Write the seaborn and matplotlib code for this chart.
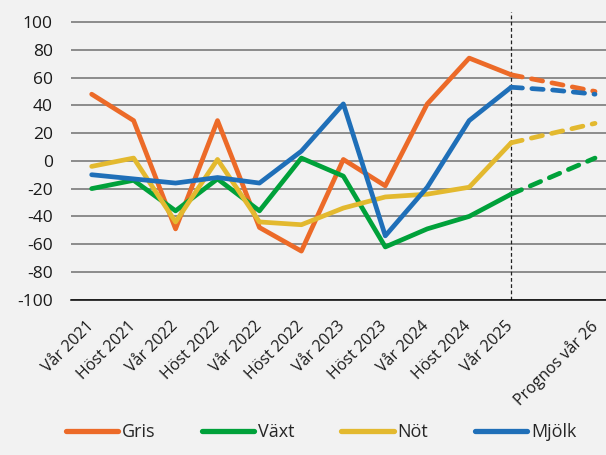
import pandas as pd
import matplotlib
matplotlib.use("Agg")
import matplotlib.pyplot as plt
import matplotlib.transforms as mtransforms
import seaborn as sns

# Halvårsvisa lägen per produktionsgren, plus prognos
periods = ["Vår 2021", "Höst 2021", "Vår 2022", "Höst 2022", "Vår 2022", "Höst 2022",
           "Vår 2023", "Höst 2023", "Vår 2024", "Höst 2024", "Vår 2025", "", "Prognos vår 26"]

gris = [48, 29, -49, 29, -48, -65, 1, -18, 41, 74, 62]
vaxt = [-20, -14, -36, -13, -36, 2, -11, -62, -49, -40, -24]
not_ = [-4, 2, -44, 1, -44, -46, -34, -26, -24, -19, 13]
mjolk = [-10, -13, -16, -12, -16, 7, 41, -54, -19, 29, 53]

# prognosdelen, från Vår 2025 fram till Prognos vår 26
gris_prog = [62, 56, 50]
vaxt_prog = [-24, -11, 2]
not_prog = [13, 20, 27]
mjolk_prog = [53, 51, 48]

names = ["Gris", "Växt", "Nöt", "Mjölk"]
colors = ["#EC6A28", "#00A13A", "#E3B92F", "#1F6FB8"]

sns.set_theme(style="white")
plt.rcParams["font.family"] = ["Open Sans", "DejaVu Sans"]
plt.rcParams["axes.unicode_minus"] = False
bg = "#F2F2F2"

fig = plt.figure(figsize=(6.06, 4.55), dpi=100, facecolor=bg)
W, H = 606, 455
ax = fig.add_axes([70.7 / W, 1 - 299.7 / H, (616 - 70.7) / W, (299.7 - 12) / H])
ax.set_facecolor(bg)

lw = 3.4
hist = [gris, vaxt, not_, mjolk]
prog = [gris_prog, vaxt_prog, not_prog, mjolk_prog]
for name, col, vals, pvals in zip(names, colors, hist, prog):
    df = pd.DataFrame({"x": range(len(vals)), "v": vals})
    sns.lineplot(data=df, x="x", y="v", ax=ax, color=col, linewidth=lw, label=name,
                 solid_capstyle="round", solid_joinstyle="round")
    start = len(vals) - 1
    dp = pd.DataFrame({"x": range(start, start + len(pvals)), "v": pvals})
    sns.lineplot(data=dp, x="x", y="v", ax=ax, color=col, linewidth=lw, legend=False,
                 dashes=False, linestyle=(0, (2.4, 2.0)), dash_capstyle="round")

ax.axvline(len(gris) - 1, color="#222222", linewidth=0.9, linestyle=(0, (3, 2)), zorder=1)

ax.set_xlim(-0.5, len(periods) - 0.5)
ax.set_ylim(-100, 107.2)
ax.set_yticks(range(-100, 101, 20))
ax.yaxis.grid(True, color="#8C8C8C", linewidth=1.4)
ax.set_axisbelow(True)
ax.tick_params(axis="y", length=0, pad=13, labelsize=12.5, colors="#1A1A1A")

ax.set_xticks(range(len(periods)))
ax.set_xticklabels(periods, rotation=45, ha="right", rotation_mode="anchor")
ax.set_xticks([i - 0.5 for i in range(len(periods) + 1)], minor=True)
ax.tick_params(axis="x", which="major", length=0, pad=13, labelsize=11.5, colors="#1A1A1A")
ax.tick_params(axis="x", which="minor", length=4.5, width=1.1, color="black", direction="out")
shift = mtransforms.ScaledTranslation(-6 / 100, 0, fig.dpi_scale_trans)
for lab in ax.get_xticklabels():
    lab.set_transform(lab.get_transform() + shift)
ax.set_xlabel("")
ax.set_ylabel("")

for s in ["left", "right", "top"]:
    ax.spines[s].set_visible(False)
ax.spines["bottom"].set_color("black")
ax.spines["bottom"].set_linewidth(1.1)

handles, labels = ax.get_legend_handles_labels()
ax.legend_.remove()
leg = fig.legend(handles, labels, ncol=4, loc="center", bbox_to_anchor=(321 / W, 1 - 432 / H),
                 frameon=False, fontsize=13, handlelength=2.9, handletextpad=0.2,
                 columnspacing=2.6)
for h in leg.get_lines():
    h.set_linewidth(3.8)
    h.set_solid_capstyle("round")

fig.savefig("out.png", dpi=100, facecolor=bg)
